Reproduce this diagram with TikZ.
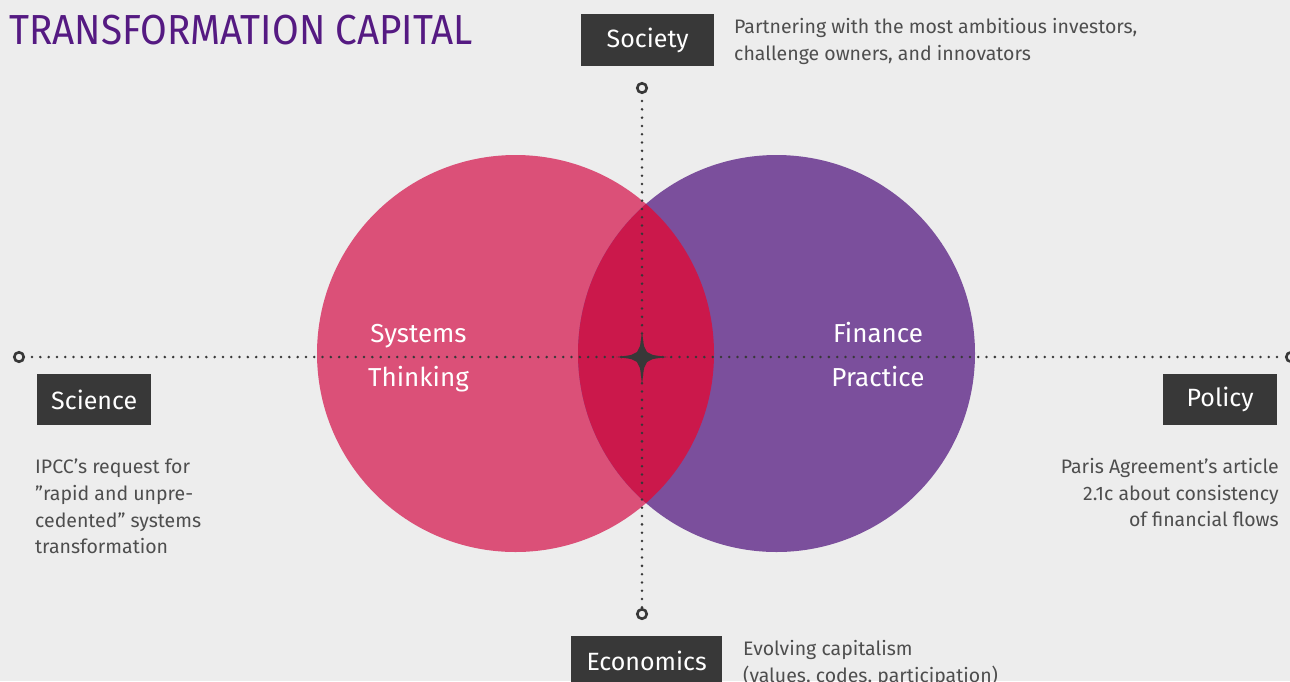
\documentclass[tikz,border=0pt]{standalone}
\usepackage{fontspec}
\setmainfont{Fira Sans}
\newfontfamily\titlefont{Fira Sans}[FakeStretch=0.92]
\definecolor{bg}{RGB}{237,237,237}
\definecolor{pinkc}{RGB}{219,80,120}
\definecolor{purplec}{RGB}{123,79,156}
\definecolor{lensc}{RGB}{203,24,75}
\definecolor{titlec}{RGB}{85,26,130}
\definecolor{boxc}{RGB}{56,56,56}
\definecolor{textc}{RGB}{78,78,78}
\tikzset{
  labelbox/.style={fill=boxc, text=white, font=\fontsize{25}{30}\selectfont, inner sep=0pt, anchor=north west},
  bodytext/.style={text=textc, font=\fontsize{19.5}{26.7}\selectfont, inner sep=0pt, align=left},
  circlabel/.style={text=white, font=\fontsize{26}{45}\selectfont, inner sep=0pt, anchor=base},
  endring/.style={circle, draw=boxc, line width=2.6pt, fill=bg, minimum size=9.5pt, inner sep=0pt},
  dotline/.style={draw=boxc, line width=2.8pt, line cap=round, dash pattern=on 0pt off 8.3pt},
}
\begin{document}
\begin{tikzpicture}[x=1pt,y=-1pt]
\useasboundingbox (0,0) rectangle (1290,681);
\fill[bg] (0,0) rectangle (1290,681);

% title
\node[text=titlec, font=\titlefont\fontsize{42}{48}\selectfont, inner sep=0pt, anchor=base west] (title) at (9,44) {TRANSFORMATION CAPITAL};

% circles
\fill[pinkc] (515.5,353.5) circle (198.5);
\fill[purplec] (776.5,353.5) circle (198.5);
\begin{scope}
  \clip (515.5,353.5) circle (198.5);
  \fill[lensc] (776.5,353.5) circle (198.5);
\end{scope}

% labels inside circles
\node[circlabel] (sys1) at (418.5,342) {Systems};
\node[circlabel] (sys2) at (418.5,386) {Thinking};
\node[circlabel] (fin1) at (878,342) {Finance};
\node[circlabel] (fin2) at (878,386) {Practice};

% dotted axes
\node[endring] (top) at (642,88) {};
\node[endring] (bot) at (642,614) {};
\node[endring] (left) at (19,357) {};
\node[endring] (right) at (1291,357) {};
\path[dotline] (top.south) ++(0,7) -- (bot.north);
\path[dotline] (left.east) ++(7,0) -- (right.west);

% star
\fill[boxc] (642,331) .. controls (644,348) .. (647,352) .. controls (651,355) .. (668,357)
  .. controls (651,359) .. (647,362) .. controls (644,366) .. (642,385)
  .. controls (640,366) .. (637,362) .. controls (633,359) .. (616,357)
  .. controls (633,355) .. (637,352) .. controls (640,348) .. (642,331) -- cycle;

% boxes
\node[labelbox, minimum width=133pt, minimum height=52pt] (society) at (581,14) {Society};
\node[labelbox, minimum width=114pt, minimum height=51pt] (science) at (37,374) {Science};
\node[labelbox, minimum width=114pt, minimum height=51pt] (policy) at (1163,374) {Policy};
\node[labelbox, minimum width=151pt, minimum height=50pt] (economics) at (571,636) {Economics};

% descriptions
\node[bodytext, anchor=north west] (societytxt) at (734,18) {Partnering with the most ambitious investors,\\challenge owners, and innovators};
\node[bodytext, anchor=north west] (sciencetxt) at (35,459) {IPCC’s request for\\”rapid and unpre-\\cedented” systems\\transformation};
\node[bodytext, anchor=north east, align=right] (policytxt) at (1279,458) {Paris Agreement’s article\\2.1c about consistency\\of financial flows};
\node[bodytext, anchor=north west] (econtxt) at (743,640) {Evolving capitalism\\(values, codes, participation)};
\end{tikzpicture}
\end{document}
